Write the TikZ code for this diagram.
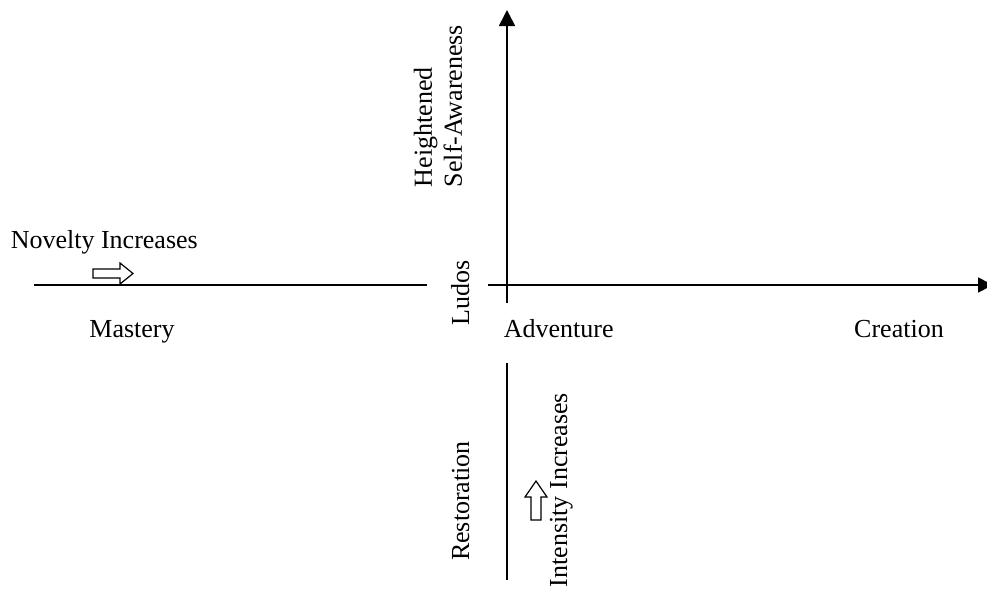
\documentclass[tikz,border=0pt]{standalone}
\usepackage{fontspec}
\setmainfont{Liberation Serif}
\usetikzlibrary{arrows.meta}

\begin{document}
\begin{tikzpicture}[x=1pt, y=-1pt, line width=1.6pt,
    every node/.style={font=\fontsize{26}{30}\selectfont, inner sep=0pt}]
    \useasboundingbox (0, 0) rectangle (987, 590);

    % axis end points
    \coordinate (leftA) at (34, 285);
    \coordinate (leftB) at (427, 285);
    \coordinate (rightA) at (488, 285);
    \coordinate (rightB) at (993, 285);
    \coordinate (upA) at (507, 303);
    \coordinate (upB) at (507, 10);
    \coordinate (downA) at (507, 363);
    \coordinate (downB) at (507, 580);

    % draw axes
    \draw[color=black] (leftA) -- (leftB);
    \draw[color=black, -{Triangle[length=15pt, width=15pt]}] (rightA) -- (rightB);
    \draw[color=black, -{Triangle[length=16pt, width=16pt]}] (upA) -- (upB);
    \draw[color=black] (downA) -- (downB);

    % draw hollow arrows
    \draw[line width=1.2pt, fill=white]
      (93, 269) -- (120, 269) -- (120, 263) -- (133, 273.5)
      -- (120, 284) -- (120, 278) -- (93, 278) -- cycle;
    \draw[line width=1.2pt, fill=white]
      (531, 520) -- (531, 497) -- (525, 497) -- (536, 481)
      -- (547, 497) -- (541, 497) -- (541, 520) -- cycle;

    % labels
    \node[anchor=base west] (novelty) at (10, 248) {Novelty Increases};
    \node[anchor=base] (mastery) at (132, 337) {Mastery};
    \node[anchor=base west] (adventure) at (503, 337) {Adventure};
    \node[anchor=base] (creation) at (899, 337) {Creation};
    \node[rotate=90, anchor=base] (ludos) at (469, 293) {Ludos};
    \node[rotate=90, anchor=west, align=left] (aware) at (438, 188)
      {Heightened\\Self-Awareness};
    \node[rotate=90, anchor=base] (restore) at (469, 501) {Restoration};
    \node[rotate=90, anchor=base] (intense) at (567, 490) {Intensity Increases};

\end{tikzpicture}
\end{document}
